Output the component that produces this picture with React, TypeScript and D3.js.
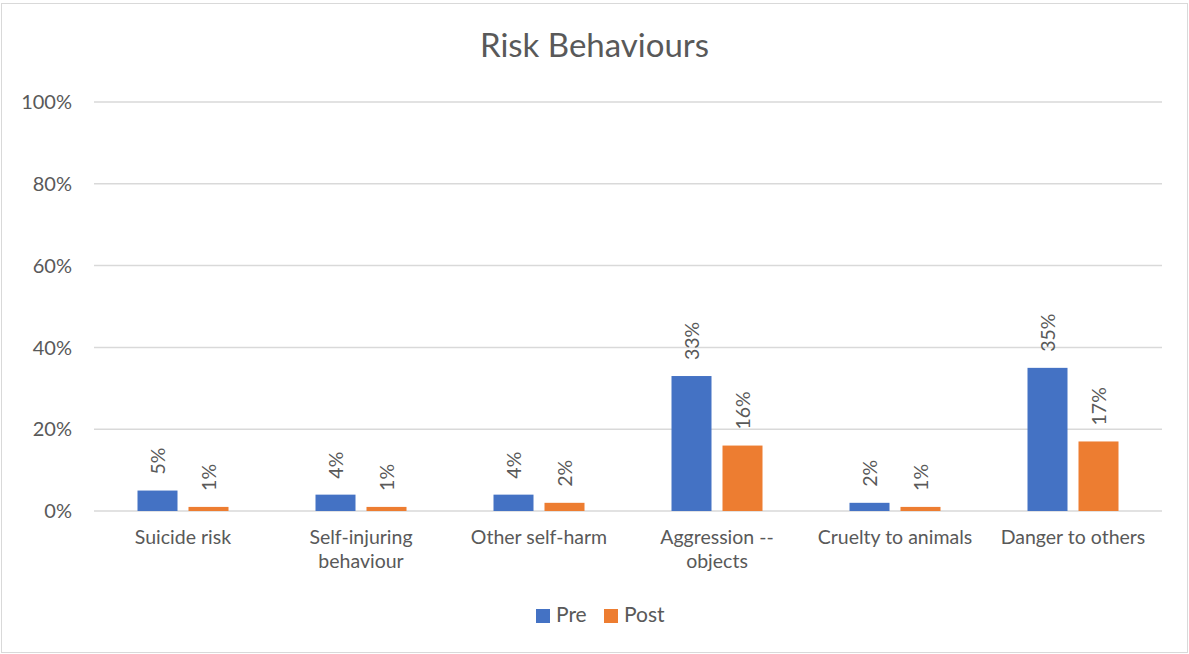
import React from "react";
import * as d3 from "d3";

// Risk behaviour rates, before and after the programme
const categories = [
  "Suicide risk",
  "Self-injuring behaviour",
  "Other self-harm",
  "Aggression -- objects",
  "Cruelty to animals",
  "Danger to others",
];
const categoryLines: string[][] = [
  ["Suicide risk"],
  ["Self-injuring", "behaviour"],
  ["Other self-harm"],
  ["Aggression --", "objects"],
  ["Cruelty to animals"],
  ["Danger to others"],
];
const preValues = [0.05, 0.04, 0.04, 0.33, 0.02, 0.35];
const postValues = [0.01, 0.01, 0.02, 0.16, 0.01, 0.17];
const seriesNames = ["Pre", "Post"];
const seriesColors = ["#4472C4", "#ED7D31"];
const yTicks = [0, 0.2, 0.4, 0.6, 0.8, 1.0];

const W = 1189;
const H = 654;
const FONT = "Lato, 'Open Sans', 'DejaVu Sans', sans-serif";
const TEXT = "#595959";

export default function App() {
  const plot = { left: 94, right: 1162, top: 102, bottom: 511 };
  const x = d3
    .scaleBand<number>()
    .domain(d3.range(categories.length))
    .range([plot.left, plot.right])
    .paddingInner(0)
    .paddingOuter(0);
  const y = d3.scaleLinear().domain([0, 1]).range([plot.bottom, plot.top]);
  const barW = 40;
  const gap = 11;
  const fmt = d3.format(".0%");
  const series = [preValues, postValues];

  return (
    <svg
      width={W}
      height={H}
      style={{ position: "absolute", left: 0, top: 0, background: "#fff" }}
      fontFamily={FONT}
    >
      <rect x={1.5} y={3.5} width={W - 3} height={H - 5} fill="#fff" stroke="#d9d9d9" />
      <text x={W / 2} y={57} textAnchor="middle" fontSize={33} fill={TEXT}>
        Risk Behaviours
      </text>

      {yTicks.map((t) => (
        <g key={t}>
          <line x1={plot.left} x2={plot.right} y1={y(t)} y2={y(t)} stroke="#d9d9d9" strokeWidth={1.5} />
          <text x={72} y={y(t)} dy="0.36em" textAnchor="end" fontSize={20} fill={TEXT}>
            {fmt(t)}
          </text>
        </g>
      ))}

      {categories.map((c, i) => {
        const cx = (x(i) as number) + x.bandwidth() / 2;
        return (
          <g key={c}>
            {series.map((vals, s) => {
              const bx = s === 0 ? cx - gap / 2 - barW : cx + gap / 2;
              const top = y(vals[i]);
              const lx = bx + barW / 2;
              return (
                <g key={s}>
                  <rect x={bx} y={top} width={barW} height={y(0) - top} fill={seriesColors[s]} />
                  <text
                    transform={`translate(${lx},${top - 16}) rotate(-90)`}
                    dy="0.36em"
                    textAnchor="start"
                    fontSize={19.5}
                    fill={TEXT}
                  >
                    {fmt(vals[i])}
                  </text>
                </g>
              );
            })}
            <text textAnchor="middle" fontSize={19.5} fill={TEXT}>
              {categoryLines[i].map((ln, k) => (
                <tspan key={k} x={cx} y={544 + k * 24}>
                  {ln}
                </tspan>
              ))}
            </text>
          </g>
        );
      })}

      {seriesNames.map((n, s) => {
        const lx = s === 0 ? 536 : 604;
        return (
          <g key={n}>
            <rect x={lx} y={609} width={14} height={14} fill={seriesColors[s]} />
            <text x={lx + 20} y={622} fontSize={21} fill={TEXT}>
              {n}
            </text>
          </g>
        );
      })}
    </svg>
  );
}
